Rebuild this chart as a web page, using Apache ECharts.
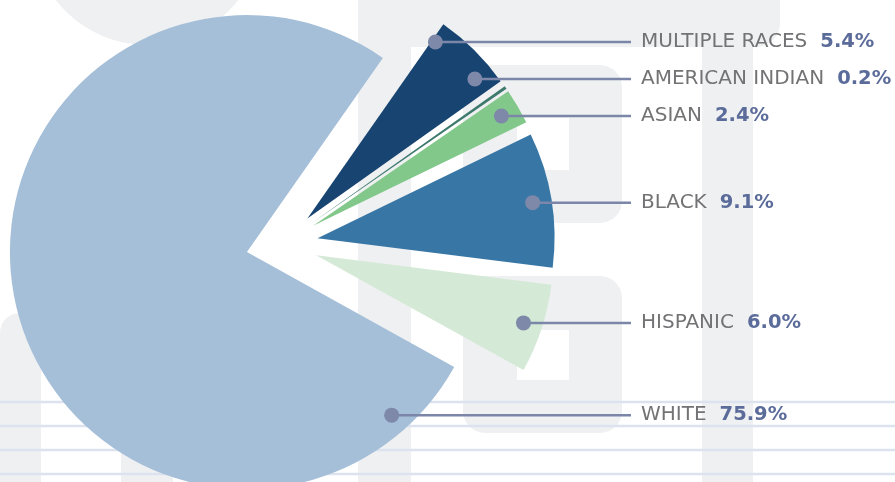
<!DOCTYPE html>
<html>
<head>
<meta charset="utf-8">
<script src="https://cdn.jsdelivr.net/npm/echarts@6/dist/echarts.min.js"></script>
<style>
html, body { margin: 0; padding: 0; background: #fff; }
#chart { width: 895px; height: 482px; }
</style>
</head>
<body>
<div id="chart"></div>
<script>
// data, clockwise from the top right
var categories = ['MULTIPLE RACES', 'AMERICAN INDIAN', 'ASIAN', 'BLACK', 'HISPANIC', 'WHITE'];
var shares = [5.4, 0.2, 2.4, 9.1, 6.0, 75.9];
var sliceColors = ['#174471', '#3d7a6d', '#82c88b', '#3876a6', '#d4e9d6', '#a5bfd9'];

var pieOffset = 36;     // every slice pulled out
var dotRadius = 0.92;   // share of the radius where the label dot sits
var labelX = 641;
var lineEndX = 631;
var minLabelGap = 37;
var bigSliceTurn = 19.4; // degrees into the big slice for its dot

var chart = echarts.init(document.getElementById('chart'));

// faint watermark behind the chart
var wm = '#eff0f2';
var backdrop = [
    { type: 'circle', shape: { cx: 147, cy: -70, r: 115 }, style: { fill: wm } },
    { type: 'rect', shape: { x: 358, y: 0, width: 53, height: 482 }, style: { fill: wm } },
    { type: 'rect', shape: { x: 358, y: -30, width: 422, height: 77, r: [0, 0, 24, 0] }, style: { fill: wm } },
    { type: 'rect', shape: { x: 702, y: 0, width: 51, height: 482 }, style: { fill: wm } },
    { type: 'rect', shape: { x: 463, y: 65, width: 159, height: 158, r: 22 }, style: { fill: wm } },
    { type: 'rect', shape: { x: 463, y: 276, width: 159, height: 157, r: 22 }, style: { fill: wm } },
    { type: 'rect', shape: { x: 517, y: 118, width: 52, height: 52 }, style: { fill: '#fff' } },
    { type: 'rect', shape: { x: 517, y: 330, width: 52, height: 50 }, style: { fill: '#fff' } },
    { type: 'rect', shape: { x: 0, y: 313, width: 41, height: 180, r: [20, 0, 0, 0] }, style: { fill: wm } },
    { type: 'rect', shape: { x: 121, y: 300, width: 52, height: 190 }, style: { fill: wm } }
];
[402, 426, 450, 474].forEach(function (y) {
    backdrop.push({ type: 'line', shape: { x1: 0, y1: y, x2: 895, y2: y }, style: { stroke: '#dce3ee', lineWidth: 2.5 } });
});
backdrop.forEach(function (el) { el.z = 0; el.silent = true; });

chart.setOption({
    animation: false,
    series: [{
        type: 'pie',
        center: [282, 244],
        radius: 237,
        startAngle: 55,
        clockwise: true,
        silent: true,
        selectedMode: 'multiple',
        selectedOffset: pieOffset,
        label: { show: false },
        labelLine: { show: false },
        select: { itemStyle: { borderWidth: 0 } },
        data: categories.map(function (name, i) {
            return {
                name: name,
                value: shares[i],
                selected: true,
                itemStyle: { color: sliceColors[i], borderWidth: 0 },
                select: { itemStyle: { color: sliceColors[i], borderWidth: 0 } }
            };
        })
    }]
});

// place the labels from the pie's own layout
var pieData = chart.getModel().getSeriesByIndex(0).getData();
var spots = categories.map(function (name, i) {
    var l = pieData.getItemLayout(i);
    var mid = (l.startAngle + l.endAngle) / 2;
    var ax = l.cx + Math.cos(mid) * pieOffset;
    var ay = l.cy + Math.sin(mid) * pieOffset;
    var ang = mid;
    if (Math.abs(l.endAngle - l.startAngle) > Math.PI) {
        ang = l.startAngle + bigSliceTurn * Math.PI / 180;
    }
    var rr = l.r * dotRadius;
    return { i: i, ax: ax, ay: ay, rr: rr, y: ay + Math.sin(ang) * rr };
});

// keep labels apart, pushing upward
var order = spots.slice().sort(function (a, b) { return b.y - a.y; });
for (var k = 1; k < order.length; k++) {
    if (order[k - 1].y - order[k].y < minLabelGap) {
        order[k].y = order[k - 1].y - minLabelGap;
    }
}

var labels = [];
spots.forEach(function (s) {
    var dy = s.y - s.ay;
    var dx = Math.sqrt(Math.max(0, s.rr * s.rr - dy * dy));
    var x = s.ax + dx;
    labels.push({
        type: 'line', z: 10, silent: true,
        shape: { x1: x, y1: s.y, x2: lineEndX, y2: s.y },
        style: { stroke: '#7b86a8', lineWidth: 2.5 }
    });
    labels.push({
        type: 'circle', z: 11, silent: true,
        shape: { cx: x, cy: s.y, r: 7.5 },
        style: { fill: '#7e88a9' }
    });
    labels.push({
        type: 'text', z: 11, silent: true,
        x: labelX, y: s.y,
        style: {
            text: '{n|' + categories[s.i] + '}{v|' + shares[s.i].toFixed(1) + '%}',
            verticalAlign: 'middle',
            align: 'left',
            rich: {
                n: { fontFamily: 'DejaVu Sans', fontSize: 20, fill: '#737375' },
                v: { fontFamily: 'DejaVu Sans', fontSize: 19.5, fontWeight: 'bold', fill: '#5b6c9a', padding: [0, 0, 0, 13] }
            }
        }
    });
});

chart.setOption({ graphic: { elements: backdrop.concat(labels) } });
</script>
</body>
</html>
